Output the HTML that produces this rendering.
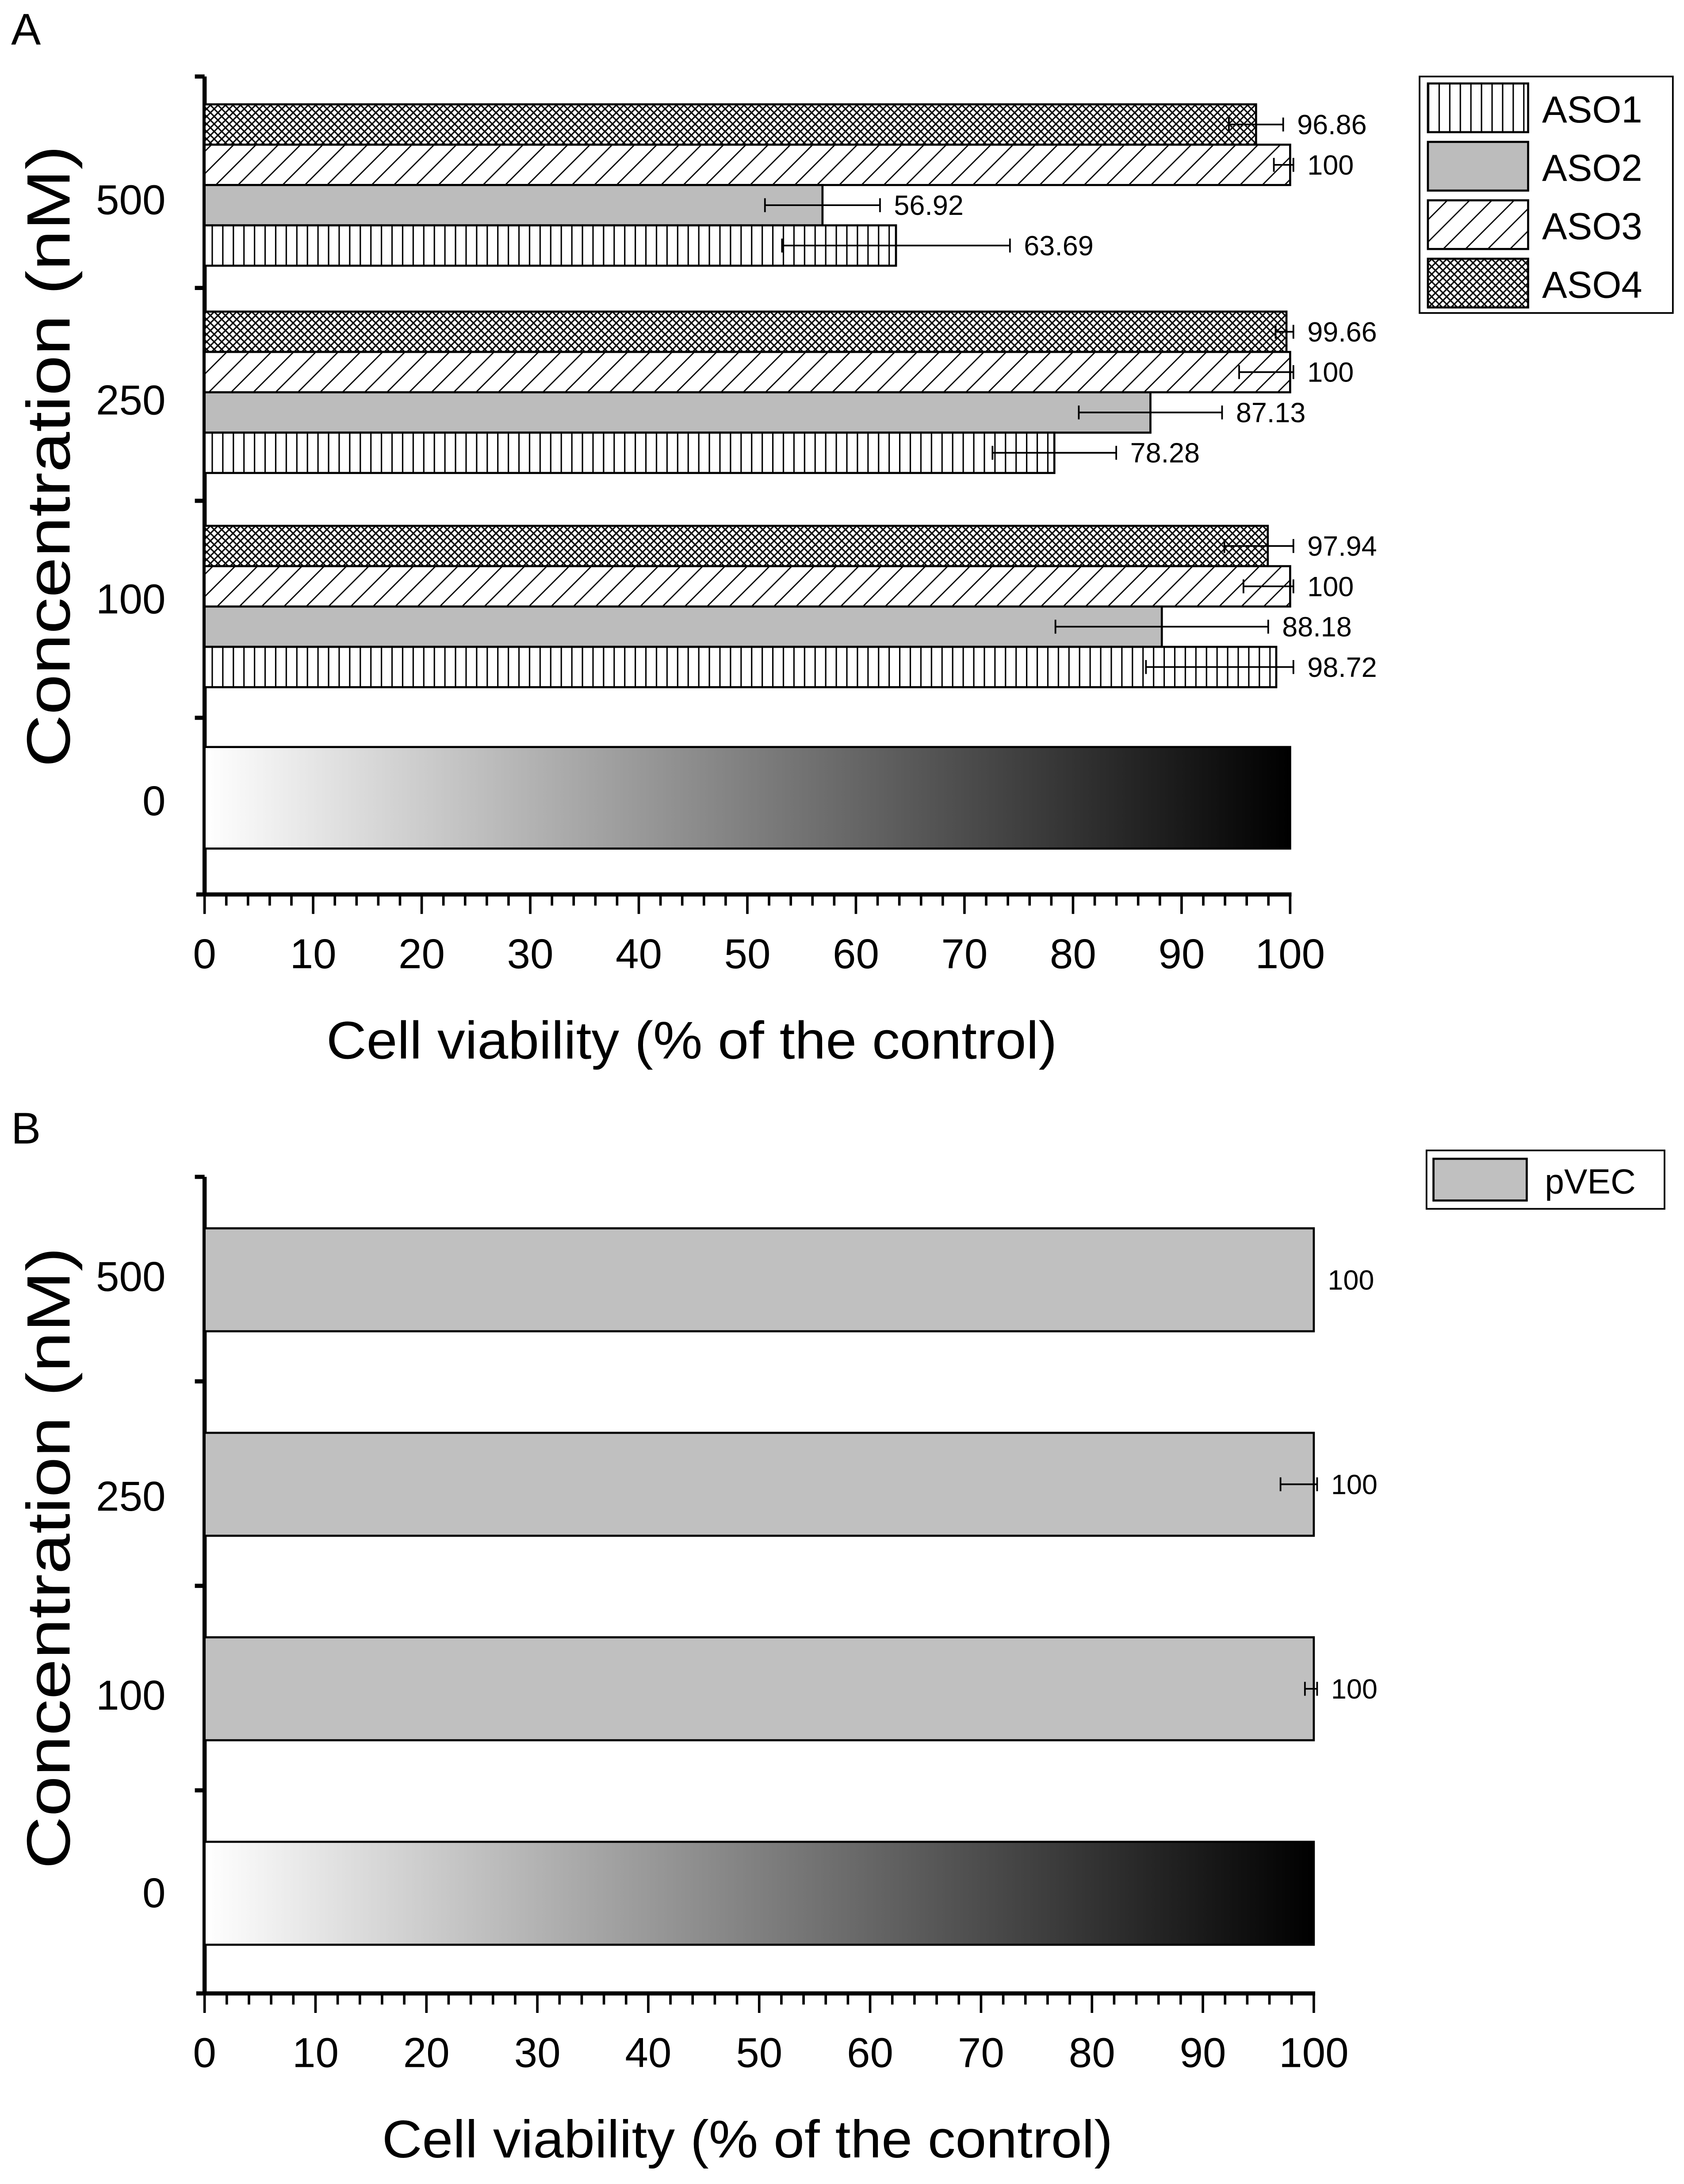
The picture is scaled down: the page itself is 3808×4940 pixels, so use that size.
<!DOCTYPE html>
<html><head><meta charset="utf-8"><style>html,body{margin:0;padding:0;background:#fff}svg{display:block}text{font-family:"Liberation Sans",sans-serif;fill:#000}</style></head>
<body>
<svg id="chart" xmlns="http://www.w3.org/2000/svg" width="3808" height="4940" viewBox="0 0 1210 1570" preserveAspectRatio="none">
<defs>
<pattern id="pVert" patternUnits="userSpaceOnUse" width="7.6" height="10"><rect width="7.6" height="10" fill="#fff"/><line x1="0.5" y1="0" x2="0.5" y2="10" stroke="#000" stroke-width="1"/></pattern>
<pattern id="pDiag" patternUnits="userSpaceOnUse" width="16" height="16"><rect width="16" height="16" fill="#fff"/><line x1="-2" y1="18" x2="18" y2="-2" stroke="#000" stroke-width="0.9"/><line x1="-2" y1="2" x2="2" y2="-2" stroke="#000" stroke-width="0.9"/><line x1="14" y1="18" x2="18" y2="14" stroke="#000" stroke-width="0.9"/></pattern>
<pattern id="pCross" patternUnits="userSpaceOnUse" width="5.4" height="5.4"><rect width="5.4" height="5.4" fill="#fff"/><path d="M0 0L5.4 5.4M5.4 0L0 5.4" stroke="#000" stroke-width="1"/></pattern>
<linearGradient id="grad" x1="0" x2="1" y1="0" y2="0"><stop offset="0" stop-color="#fff"/><stop offset="1" stop-color="#000"/></linearGradient>
</defs>
<g id="root"></g>
</svg>
<script>
// Panel A data
const concA = ["500", "250", "100"];
const seriesA = ["ASO4", "ASO3", "ASO2", "ASO1"];
const valsASO1 = [63.69, 78.28, 98.72];
const valsASO2 = [56.92, 87.13, 88.18];
const valsASO3 = [100, 100, 100];
const valsASO4 = [96.86, 99.66, 97.94];
const errASO1 = [10.5, 5.7, 12];
const errASO2 = [5.3, 6.6, 9.8];
const errASO3 = [1.5, 4.7, 4.3];
const errASO4 = [2.5, 1, 4];
const labelsASO1 = ["63.69", "78.28", "98.72"];
const labelsASO2 = ["56.92", "87.13", "88.18"];
const labelsASO3 = ["100", "100", "100"];
const labelsASO4 = ["96.86", "99.66", "97.94"];
const xTicks = [0, 10, 20, 30, 40, 50, 60, 70, 80, 90, 100];
const controlValue = 100;
// Panel B data
const concB = ["500", "250", "100"];
const valsPVEC = [100, 100, 100];
const errPVEC = [0, 3, 0.8];
const labelsPVEC = ["100", "100", "100"];

const NS = "http://www.w3.org/2000/svg";
const root = document.getElementById("root");
function mk(tag, attrs, parent) {
  const e = document.createElementNS(NS, tag);
  for (const k in attrs) e.setAttribute(k, attrs[k]);
  (parent || root).appendChild(e);
  return e;
}
function txt(x, y, s, size, anchor, parent) {
  const t = mk("text", {x: x, y: y, "font-size": size, "text-anchor": anchor || "start"}, parent);
  t.textContent = s;
  return t;
}

function drawPanel(cfg) {
  const g = mk("g", {});
  
  
  const xs = v => cfg.x0 + (cfg.x1 - cfg.x0) * v / 100;
  const pl = txt(8, cfg.letterY, cfg.letter, 32, "start", g);
  
  
  const ya = mk("line", {x1: cfg.x0, y1: cfg.yTop, x2: cfg.x0, y2: cfg.yAxis, stroke: "#000", "stroke-width": 3}, g);
  
  
  cfg.yTicks.forEach(y => {
    const t = mk("line", {x1: cfg.x0 - 7, y1: y, x2: cfg.x0, y2: y, stroke: "#000", "stroke-width": 3}, g);
    
    
  });
  cfg.catLabels.forEach((c, i) => {
    const t = txt(cfg.x0 - 28, cfg.catLabelY[i], c, 30, "end", g);
    
    
  });
  const xa = mk("line", {x1: cfg.x0 - 6, y1: cfg.yAxis, x2: cfg.x1 + 1, y2: cfg.yAxis, stroke: "#000", "stroke-width": 3}, g);
  
  
  for (let v = 0; v <= 100; v += 2) {
    const major = v % 10 === 0;
    const t = mk("line", {x1: xs(v), y1: cfg.yAxis, x2: xs(v), y2: cfg.yAxis + (major ? 14 : 8), stroke: "#000", "stroke-width": 1.8}, g);
    
    
  }
  xTicks.forEach(v => {
    const t = txt(xs(v), cfg.yAxis + 53, String(v), 30, "middle", g);
    
    
  });
  const xt = txt(cfg.xTitleX, cfg.yAxis + 118, "Cell viability (% of the control)", 38, "middle", g);
  xt.setAttribute("textLength", 525);
  xt.setAttribute("lengthAdjust", "spacingAndGlyphs");
  
  
  const yt = txt(0, 0, "Concentration (nM)", 44, "middle", g);
  yt.setAttribute("transform", "translate(50," + cfg.yTitleY + ") rotate(-90)");
  yt.setAttribute("textLength", 447);
  yt.setAttribute("lengthAdjust", "spacingAndGlyphs");
  
  
  const cb = mk("rect", {x: cfg.x0, y: cfg.ctrlY, width: xs(controlValue) - cfg.x0, height: cfg.ctrlH, fill: "url(#grad)", stroke: "#000", "stroke-width": 1.5}, g);
  
  
  return {g: g, xs: xs};
}

function bar(g, xs, x0, y, h, v, err, label, fill, name, fontSize) {
  const r = mk("rect", {x: x0, y: y, width: xs(v) - x0, height: h, fill: fill, stroke: "#000", "stroke-width": 1.5}, g);
  
  
  const cy = y + h / 2;
  let end = xs(v);
  if (err > 0) {
    const a = xs(v - err), b = xs(Math.min(v + err, 100.3));
    const eb = mk("path", {d: "M" + a + " " + cy + "H" + b + "M" + a + " " + (cy - 5) + "V" + (cy + 5) + "M" + b + " " + (cy - 5) + "V" + (cy + 5), stroke: "#000", "stroke-width": 1.2, fill: "none"}, g);
    
    
    end = Math.max(end, b);
  }
  const t = txt(end + 10, cy + 7, label, fontSize, "start", g);
  
  
}

const A = drawPanel({name: "panel-a", letter: "A", letterY: 32, x0: 147, x1: 927, yTop: 55, yAxis: 643,
  yTicks: [55, 207, 360, 516], catLabels: ["500", "250", "100", "0"], catLabelY: [154, 298, 441, 586],
  yTitleY: 328, xTitleX: 497, ctrlY: 537, ctrlH: 73});
const groupTopA = [75, 224, 378];
const barHA = 29;
const fills = {ASO1: "url(#pVert)", ASO2: "#bcbcbc", ASO3: "url(#pDiag)", ASO4: "url(#pCross)"};
const dataMap = {ASO1: [valsASO1, errASO1, labelsASO1], ASO2: [valsASO2, errASO2, labelsASO2], ASO3: [valsASO3, errASO3, labelsASO3], ASO4: [valsASO4, errASO4, labelsASO4]};
concA.forEach((c, i) => {
  seriesA.forEach((s, j) => {
    const d = dataMap[s];
    bar(A.g, A.xs, 147, groupTopA[i] + j * barHA, barHA, d[0][i], d[1][i], d[2][i], fills[s], "bar-" + s.toLowerCase() + "-" + c + "nm", 20);
  });
});
const legA = mk("g", {});


mk("rect", {x: 1020, y: 55, width: 182, height: 170, fill: "#fff", stroke: "#000", "stroke-width": 1.2}, legA);
["ASO1", "ASO2", "ASO3", "ASO4"].forEach((s, i) => {
  const y = 60 + i * 42;
  const e = mk("g", {}, legA);
  
  
  mk("rect", {x: 1026, y: y, width: 72, height: 35, fill: fills[s], stroke: "#000", "stroke-width": 1.5}, e);
  txt(1108, y + 28, s, 27, "start", e);
});

const B = drawPanel({name: "panel-b", letter: "B", letterY: 822, x0: 147, x1: 944, yTop: 846, yAxis: 1433,
  yTicks: [846, 993, 1140, 1287], catLabels: ["500", "250", "100", "0"], catLabelY: [928, 1086, 1229, 1371],
  yTitleY: 1120, xTitleX: 537, ctrlY: 1324, ctrlH: 74});
const groupTopB = [883, 1030, 1177];
concB.forEach((c, i) => {
  bar(B.g, B.xs, 147, groupTopB[i], 74, valsPVEC[i], errPVEC[i], labelsPVEC[i], "#c0c0c0", "bar-pvec-" + c + "nm", 20);
});
const legB = mk("g", {});


mk("rect", {x: 1025, y: 827, width: 171, height: 42, fill: "#fff", stroke: "#000", "stroke-width": 1.2}, legB);
const eB = mk("g", {}, legB);


mk("rect", {x: 1030, y: 833, width: 67, height: 30, fill: "#c0c0c0", stroke: "#000", "stroke-width": 1.5}, eB);
txt(1110, 858, "pVEC", 25, "start", eB);
</script>
</body></html>
